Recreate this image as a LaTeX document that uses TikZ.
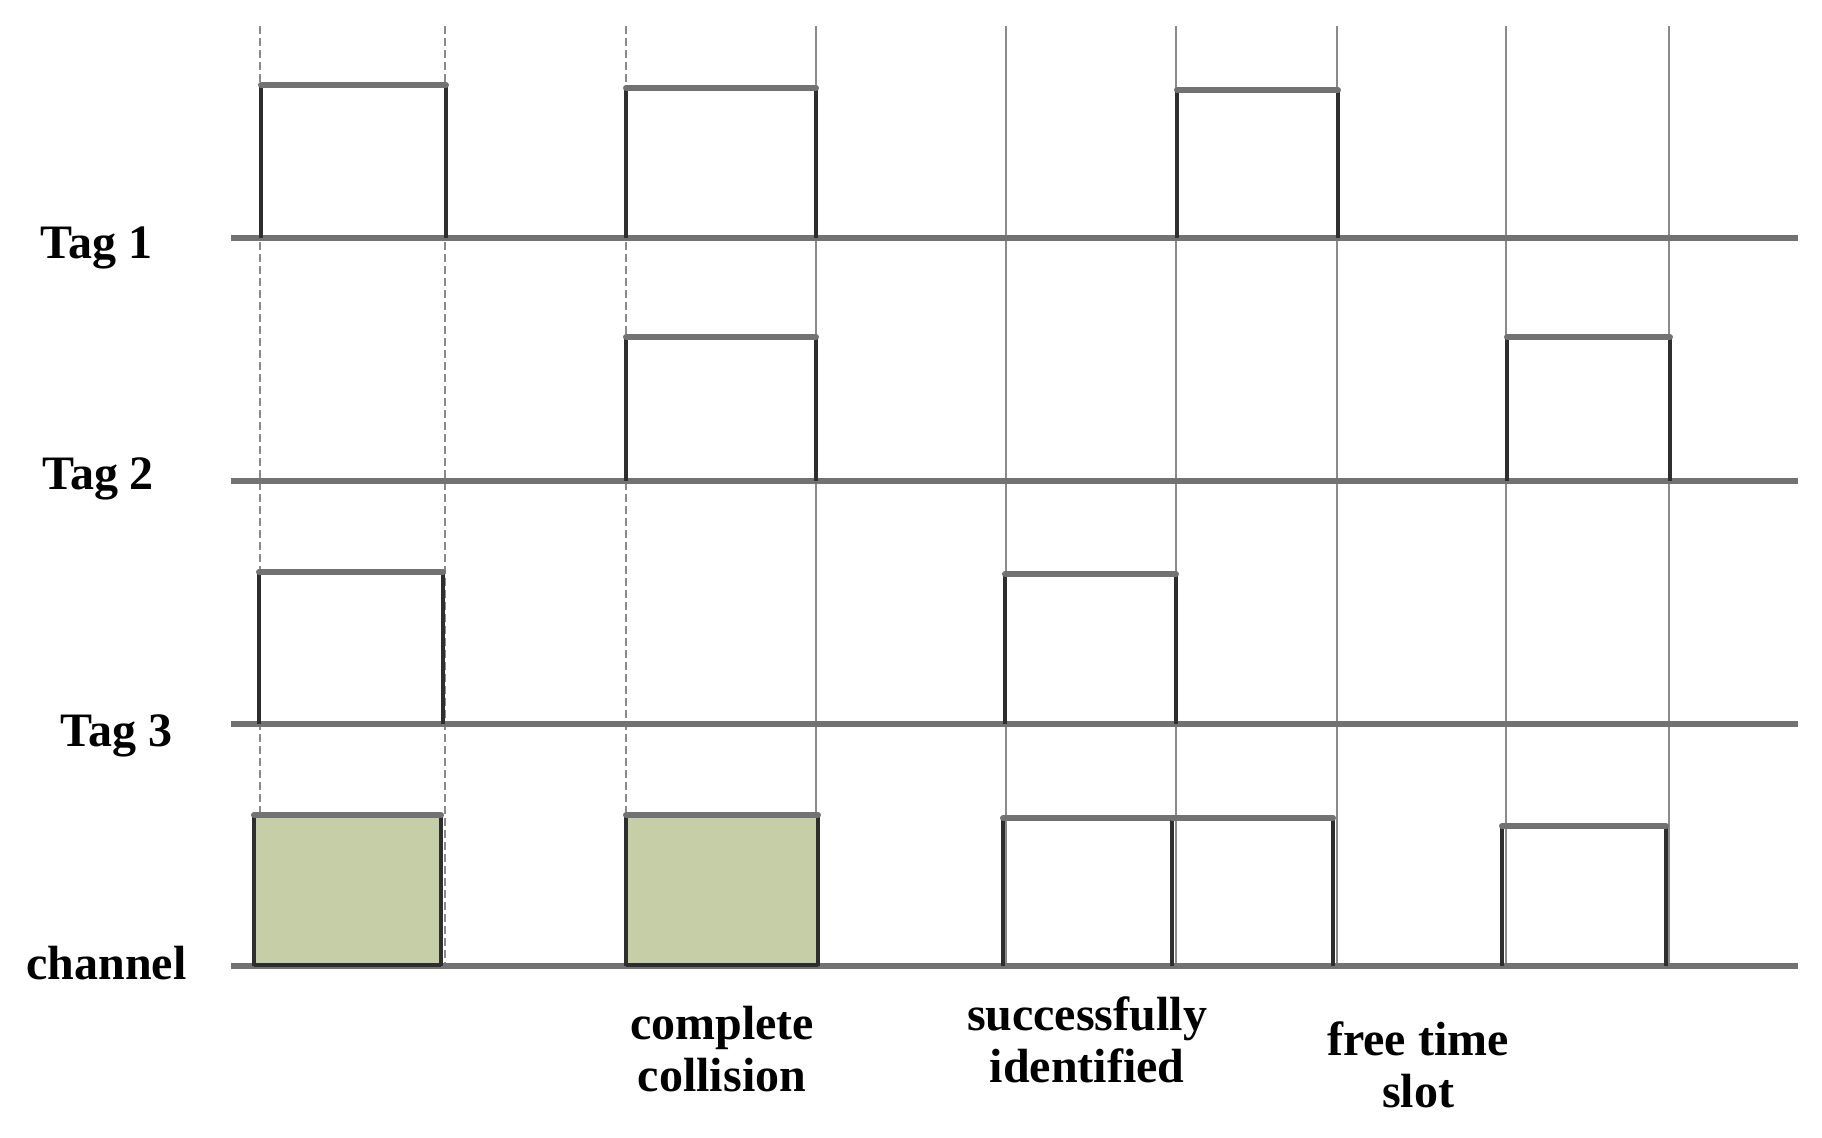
\documentclass[tikz,border=0pt]{standalone}
\usepackage{fontspec}
\setmainfont{Liberation Serif}
\definecolor{axisgray}{HTML}{727272}
\definecolor{guidegray}{HTML}{8A8A8A}
\definecolor{edgedark}{HTML}{2E2E2E}
\definecolor{collgreen}{HTML}{C6CEA8}
\newcommand{\tagpulse}[4]{% x1, x2, top, base
  \draw[pulseedge] (#1,#4) -- (#1,#3);
  \draw[pulseedge] (#2,#3) -- (#2,#4);
  \draw[pulsetop] (#1,#3) -- (#2,#3);
}
\begin{document}
\begin{tikzpicture}[x=0.5pt,y=-0.5pt,
  axisline/.style={line width=3pt, draw=axisgray},
  guide/.style={line width=1.1pt, draw=guidegray},
  guidedash/.style={guide, dash pattern=on 4pt off 2pt},
  pulseedge/.style={line width=2pt, draw=edgedark},
  pulsetop/.style={line width=3pt, draw=axisgray, line cap=round},
  lbl/.style={font=\fontsize{24}{26}\selectfont\bfseries, inner sep=0pt, align=center}
]
\useasboundingbox (0,0) rectangle (1822,1138);
\fill[white] (0,0) rectangle (1822,1138);

% vertical guide lines
\foreach \gx in {260,445,626}{\draw[guidedash] (\gx,26) -- (\gx,966);}
\foreach \gx in {816,1006,1176,1337,1506,1669}{\draw[guide] (\gx,26) -- (\gx,966);}

% collision boxes on the channel
\fill[collgreen] (254,815) rectangle (441,966);
\fill[collgreen] (626,815) rectangle (818,966);

% time axes
\foreach \ay in {238,481,724,966}{\draw[axisline] (231,\ay) -- (1798,\ay);}

% Tag 1
\tagpulse{261}{446}{85}{238}
\tagpulse{626}{816}{88}{238}
\tagpulse{1177}{1338}{90}{238}
% Tag 2
\tagpulse{626}{816}{337}{481}
\tagpulse{1507}{1670}{337}{481}
% Tag 3
\tagpulse{259}{443}{572}{724}
\tagpulse{1005}{1176}{574}{724}
% channel
\tagpulse{254}{441}{815}{966}
\draw[pulseedge] (254,965) -- (441,965);
\tagpulse{626}{818}{815}{966}
\draw[pulseedge] (626,965) -- (818,965);
\tagpulse{1003}{1172}{818}{966}
\tagpulse{1172}{1333}{818}{966}
\tagpulse{1502}{1666}{826}{966}

% labels
\node[lbl, anchor=base west] (tag1) at (40,259) {Tag 1};
\node[lbl, anchor=base west] (tag2) at (42,490) {Tag 2};
\node[lbl, anchor=base west] (tag3) at (60,747) {Tag 3};
\node[lbl, anchor=base west] (chan) at (26,979) {channel};
\node[lbl, anchor=base] (coll) at (722,1091) {complete\\collision};
\node[lbl, anchor=base] (succ) at (1087,1082) {successfully\\identified};
\node[lbl, anchor=base] (free) at (1418,1107) {free time\\slot};
\end{tikzpicture}
\end{document}
